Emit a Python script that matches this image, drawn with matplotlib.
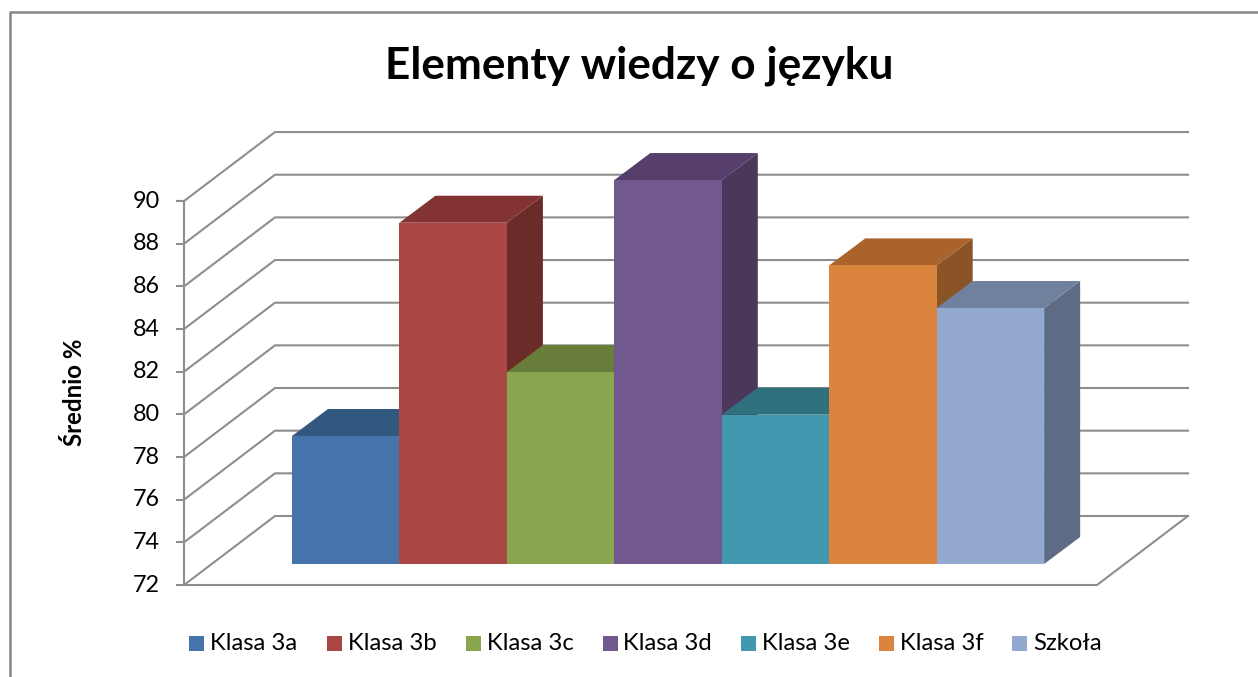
import matplotlib
matplotlib.use('Agg')
import matplotlib.pyplot as plt
from matplotlib.patches import Polygon, Rectangle

plt.rcParams['font.family'] = ['Lato', 'DejaVu Sans']

title = 'Elementy wiedzy o języku'
ylabel = 'Średnio %'
categories = ['Klasa 3a', 'Klasa 3b', 'Klasa 3c', 'Klasa 3d', 'Klasa 3e', 'Klasa 3f', 'Szkoła']
values = [78, 88, 81, 90, 79, 86, 84]
yticks = [72, 74, 76, 78, 80, 82, 84, 86, 88, 90]
front_colors = ['#4674AA', '#AA4643', '#89A54E', '#71588F', '#4198AF', '#DB843D', '#93A9CF']
top_colors = ['#335880', '#833432', '#687D3A', '#563F6C', '#31707F', '#A9632B', '#6F819C']
side_colors = ['#2B4A6C', '#6B2C29', '#57692F', '#4A3759', '#295E6B', '#8B5426', '#5D6B84']
legend_box_x = [189, 327, 466, 603, 741, 879, 1012]
legend_text_x = [210, 348, 487, 623, 762, 900, 1033]

W, H = 1258, 677
GRID = '#8E8E8E'

# pixel scale of the bar plane: one category wide, one percent high
PX_X = 107.45
PX_Y = 21.33
X0_PX = 292
Y0_PX = 564

fig = plt.figure(figsize=(W / 100, H / 100), dpi=100)
ax = fig.add_axes([0, 0, 1, 1])
ax.set_xlim(-X0_PX / PX_X, (W - X0_PX) / PX_X)
ax.set_ylim(72 - (H - Y0_PX) / PX_Y, 72 + Y0_PX / PX_Y)
ax.axis('off')


def dx(px):
    return px / PX_X


def dy(px):
    return px / PX_Y


# bar plane sits a bit behind the axis plane, offsets in pixels
left = dx(184 - X0_PX)
right = dx(1097 - X0_PX)
front = 72 - dy(21)
wall_dx = dx(91)
wall_dy = dy(69)
bar_dx = dx(36)
bar_dy = dy(27)

# back wall and left wall gridlines
for t in yticks:
    y = front + (t - 72)
    ax.plot([left, left + wall_dx, right + wall_dx], [y, y + wall_dy, y + wall_dy],
            color=GRID, lw=1.5, solid_joinstyle='miter', zorder=1)

# floor and y axis
ax.plot([left, right, right + wall_dx], [front, front, front + wall_dy], color=GRID, lw=1.5, zorder=1)
ax.plot([left, left], [front, front + 18], color=GRID, lw=1.5, zorder=1)
for t in yticks:
    y = front + (t - 72)
    ax.plot([left - dx(7), left], [y, y], color=GRID, lw=1.5, zorder=1)
    ax.text(left - dx(38), y, str(t), ha='center', va='center', fontsize=16.8, color='black')

# bars, left to right so each front covers the previous side
for i, v in enumerate(values):
    z = 2 + i
    ax.add_patch(Polygon([(i + 1, 72), (i + 1 + bar_dx, 72 + bar_dy), (i + 1 + bar_dx, v + bar_dy), (i + 1, v)],
                         closed=True, fc=side_colors[i], ec='none', zorder=z))
    ax.add_patch(Polygon([(i, v), (i + bar_dx, v + bar_dy), (i + 1 + bar_dx, v + bar_dy), (i + 1, v)],
                         closed=True, fc=top_colors[i], ec='none', zorder=z))
    ax.bar(i, v - 72, bottom=72, width=1, align='edge', color=front_colors[i], zorder=z)

# outer chart border, cut off by the picture on the right and bottom
fig.add_artist(plt.Line2D([10 / W, 10 / W, 1], [0, 1 - 12 / H, 1 - 12 / H], color='#868686', lw=1.8))

fig.text(639.5 / W, 1 - 79 / H, title, ha='center', va='baseline', fontsize=31.8, fontweight='bold', color='black')
fig.text(75 / W, 1 - 392.5 / H, ylabel, rotation=90, ha='center', va='center', fontsize=17.3, fontweight='bold', color='black')

# legend
for i, name in enumerate(categories):
    fig.add_artist(Rectangle((legend_box_x[i] / W, 1 - 651 / H), 15 / W, 15 / H,
                             transform=fig.transFigure, fc=front_colors[i], ec='none'))
    fig.text(legend_text_x[i] / W, 1 - 644 / H, name, ha='left', va='center', fontsize=17.2, color='black')

fig.savefig('out.png', dpi=100)
